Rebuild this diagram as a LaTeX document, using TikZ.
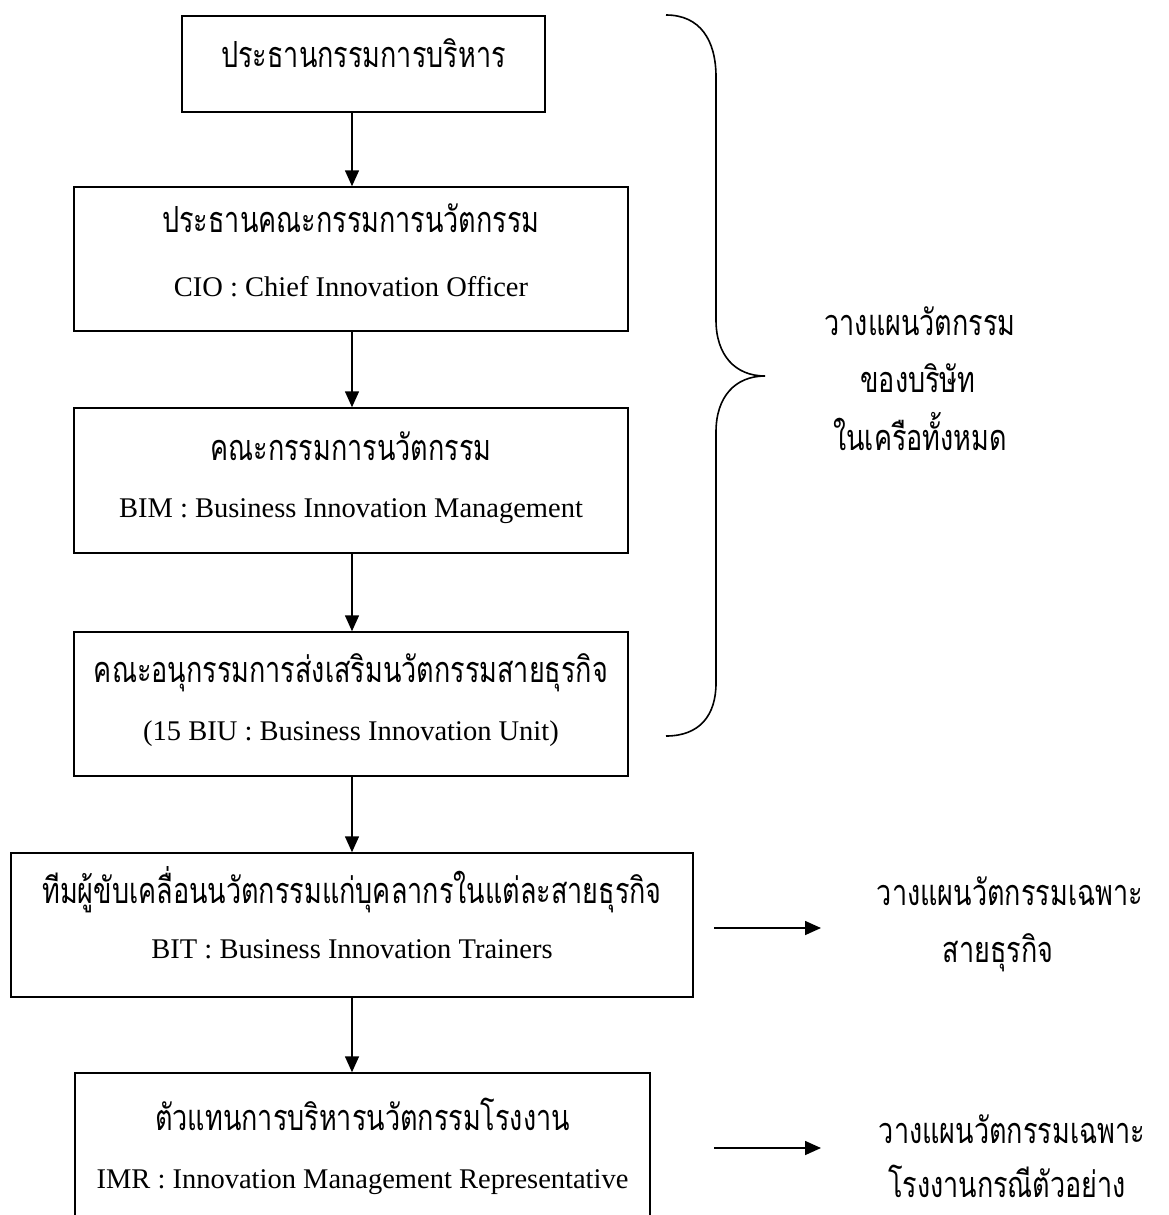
\documentclass[tikz,border=0pt]{standalone}
\usepackage{fontspec}
\setmainfont{Liberation Serif}
\newfontfamily\thai[Script=Thai,FakeStretch=0.75]{Loma}
\usetikzlibrary{arrows.meta,calc}
\begin{document}
\begin{tikzpicture}[x=1pt,y=-1pt,
  box/.style={draw,line width=1.5pt,inner sep=0pt},
  th/.style={anchor=base,inner sep=0pt,font=\thai\fontsize{36}{42}\selectfont},
  en/.style={anchor=base,inner sep=0pt,font=\fontsize{28.5}{34}\selectfont},
  arr/.style={line width=1.6pt,-{Triangle[length=16pt,width=14pt]}},
  brace/.style={line width=1.6pt}]
\useasboundingbox (0,0) rectangle (1168,1215);
% boxes
\node[box,minimum width=363pt,minimum height=96pt] (b1) at (363.5,64) {};
\node[box,minimum width=554pt,minimum height=144pt] (b2) at (351,259) {};
\node[box,minimum width=554pt,minimum height=145pt] (b3) at (351,480.5) {};
\node[box,minimum width=554pt,minimum height=144pt] (b4) at (351,704) {};
\node[box,minimum width=682pt,minimum height=144pt] (b5) at (352,925) {};
\node[box,minimum width=575pt,minimum height=200pt] (b6) at (362.5,1173) {};
% texts
\node[th] (t1) at (363.5,67) {ประธานกรรมการบริหาร};
\node[th] (t2a) at (351,232) {ประธานคณะกรรมการนวัตกรรม};
\node[en] (t2b) at (351,296) {CIO : Chief Innovation Officer};
\node[th] (t3a) at (351,460) {คณะกรรมการนวัตกรรม};
\node[en] (t3b) at (351,517) {BIM : Business Innovation Management};
\node[th] (t4a) at (351,682) {คณะอนุกรรมการส่งเสริมนวัตกรรมสายธุรกิจ};
\node[en] (t4b) at (351,740) {(15 BIU : Business Innovation Unit)};
\node[th] (t5a) at (352,903) {ทีมผู้ขับเคลื่อนนวัตกรรมแก่บุคลากรในแต่ละสายธุรกิจ};
\node[en] (t5b) at (352,958) {BIT : Business Innovation Trainers};
\node[th] (t6a) at (362.5,1130) {ตัวแทนการบริหารนวัตกรรมโรงงาน};
\node[en] (t6b) at (362.5,1188) {IMR : Innovation Management Representative};
% right texts
\node[th] (r1a) at (920,335) {วางแผนวัตกรรม};
\node[th] (r1b) at (918,392) {ของบริษัท};
\node[th] (r1c) at (920,450) {ในเครือทั้งหมด};
\node[th] (r2a) at (1010,905) {วางแผนวัตกรรมเฉพาะ};
\node[th] (r2b) at (998,962) {สายธุรกิจ};
\node[th] (r3a) at (1012,1143) {วางแผนวัตกรรมเฉพาะ};
\node[th] (r3b) at (1007,1197) {โรงงานกรณีตัวอย่าง};
% arrows
\coordinate (ax) at (352,0);
\draw[arr] (b1.south -| ax) -- (b2.north -| ax);
\draw[arr] (b2.south -| ax) -- (b3.north -| ax);
\draw[arr] (b3.south -| ax) -- (b4.north -| ax);
\draw[arr] (b4.south -| ax) -- (b5.north -| ax);
\draw[arr] (b5.south -| ax) -- (b6.north -| ax);
\coordinate (h1s) at (714,928);
\coordinate (h1e) at (821,928);
\coordinate (h2s) at (714,1148);
\coordinate (h2e) at (821,1148);
\draw[arr] (h1s) -- (h1e);
\draw[arr] (h2s) -- (h2e);
% brace
\draw[brace] (666,15) .. controls (700,15) and (716,40) .. (716,77)
  -- (716,320) .. controls (716,355) and (735,376) .. (765,376)
  .. controls (735,376) and (716,397) .. (716,432)
  -- (716,683) .. controls (716,715) and (700,736) .. (666,736);
\end{tikzpicture}
\end{document}
